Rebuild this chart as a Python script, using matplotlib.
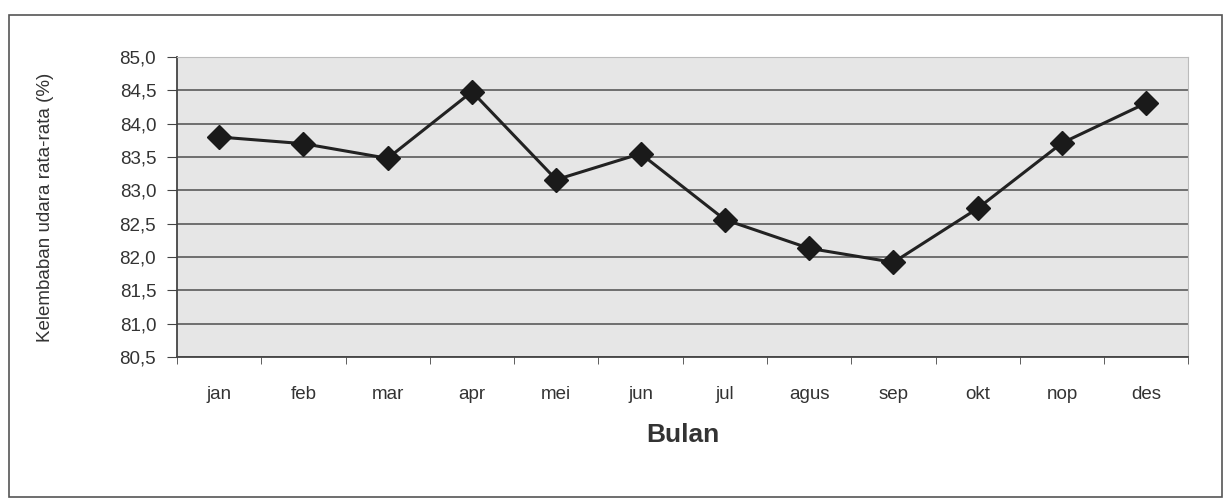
import matplotlib
matplotlib.use("Agg")
import matplotlib.pyplot as plt
import numpy as np
from matplotlib.patches import Rectangle

plt.rcParams['font.family'] = ['Liberation Sans', 'DejaVu Sans']

bulan = ['jan', 'feb', 'mar', 'apr', 'mei', 'jun', 'jul', 'agus', 'sep', 'okt', 'nop', 'des']
kelembaban = [83.8, 83.7, 83.48, 84.48, 83.16, 83.55, 82.56, 82.13, 81.92, 82.73, 83.71, 84.31]
yticks = [80.5, 81.0, 81.5, 82.0, 82.5, 83.0, 83.5, 84.0, 84.5, 85.0]
ytick_labels = ['80,5', '81,0', '81,5', '82,0', '82,5', '83,0', '83,5', '84,0', '84,5', '85,0']

fig = plt.figure(figsize=(12.29, 5), dpi=100)
fig.patch.set_facecolor('white')

# outer chart frame
fig.patches.append(Rectangle((0.007, 0.006), 0.987, 0.964, transform=fig.transFigure,
                             fill=False, edgecolor='#555555', linewidth=1.2))

ax = fig.add_axes([0.144, 0.286, 0.823, 0.6])
ax.set_facecolor('#e6e6e6')

x = np.arange(len(bulan))
ax.plot(x, kelembaban, color='#222222', linewidth=2.2, marker='D', markersize=12,
        markerfacecolor='#1a1a1a', markeredgecolor='#1a1a1a', zorder=3)

ax.set_xlim(-0.5, len(bulan) - 0.5)
ax.set_ylim(80.5, 85.0)
ax.set_yticks(yticks)
ax.set_yticklabels(ytick_labels)
ax.set_xticks(x)
ax.set_xticklabels(bulan)
ax.set_xticks(np.arange(-0.5, len(bulan), 1), minor=True)
ax.tick_params(axis='x', which='major', length=0, pad=21, labelsize=13.5, colors='#333333')
ax.tick_params(axis='x', which='minor', length=5, color='#444444')
ax.tick_params(axis='y', length=7, pad=8, labelsize=13.5, colors='#333333', color='#444444')

ax.yaxis.grid(True, color='#5a5a5a', linewidth=1.2)
ax.set_axisbelow(True)
for s in ['top', 'right']:
    ax.spines[s].set_color('#bbbbbb')
    ax.spines[s].set_linewidth(0.8)
for s in ['left', 'bottom']:
    ax.spines[s].set_color('#444444')
    ax.spines[s].set_linewidth(1.3)

ax.set_ylabel('Kelembaban udara rata-rata (%)', fontsize=13.5, color='#333333')
ax.yaxis.set_label_coords(-0.122, 0.5)
ax.set_xlabel('Bulan', fontsize=19, fontweight='bold', color='#333333', labelpad=14)

fig.savefig('out.png', dpi=100)
